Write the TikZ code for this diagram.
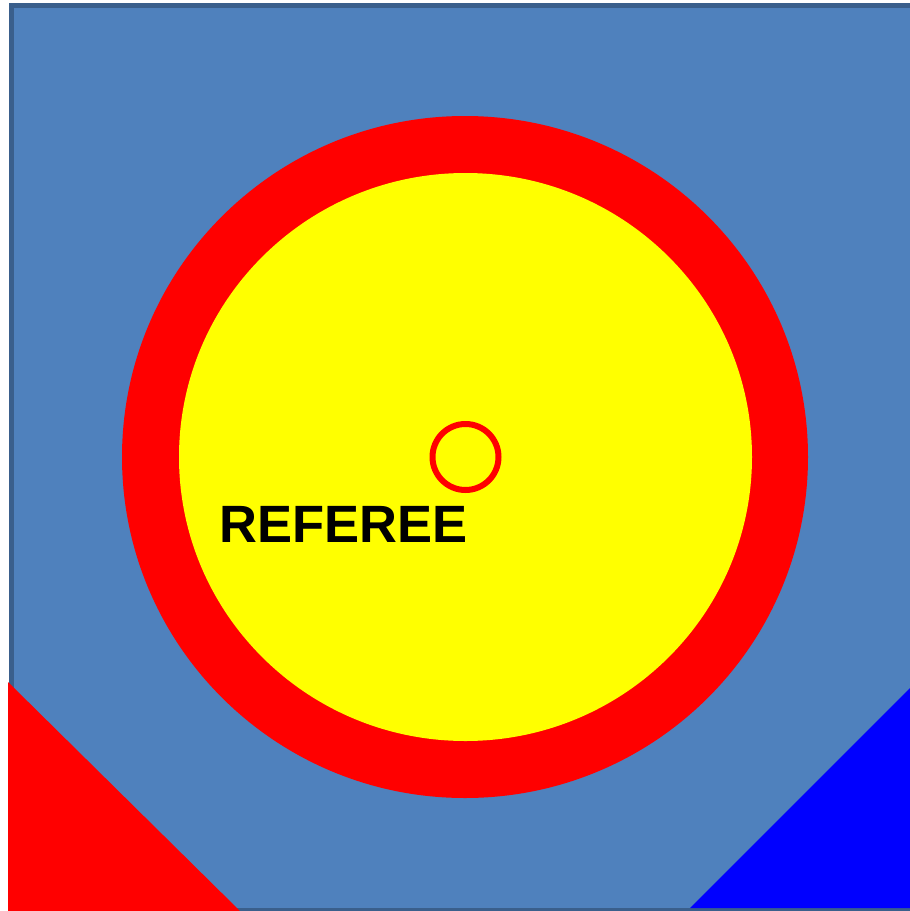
\documentclass[tikz,border=0pt]{standalone}
\usepackage{fontspec}
\setmainfont{Liberation Sans}
\definecolor{fieldblue}{HTML}{4F81BD}
\definecolor{fieldedge}{HTML}{3A5F8C}
\definecolor{pureblue}{HTML}{0000FF}
\definecolor{purered}{HTML}{FF0000}
\definecolor{pureyellow}{HTML}{FFFF00}
\begin{document}
\begin{tikzpicture}[x=1pt,y=-1pt,
  field/.style={fill=fieldblue,draw=fieldedge,line width=5pt},
  corner/.style={draw=none}]
\useasboundingbox (0,0) rectangle (910,911);
\path[field] (11,5.5) rectangle (920,910.5);
\fill[purered] (465,457) ellipse [x radius=343, y radius=341];
\fill[pureyellow] (465.5,457) ellipse [x radius=286.5, y radius=284];
\node[circle,draw=purered,line width=6pt,minimum size=66pt,inner sep=0pt] (centre) at (465.5,457) {};
\node[anchor=base west,inner sep=0pt,font=\bfseries\fontsize{52.5}{52.5}\selectfont] (ref) at (219,542.5) {REFEREE};
\fill[purered,corner] (8,682) -- (240,911) -- (8,911) -- cycle;
\fill[pureblue,corner] (910,688) -- (690,908) -- (910,908) -- cycle;
\end{tikzpicture}
\end{document}
